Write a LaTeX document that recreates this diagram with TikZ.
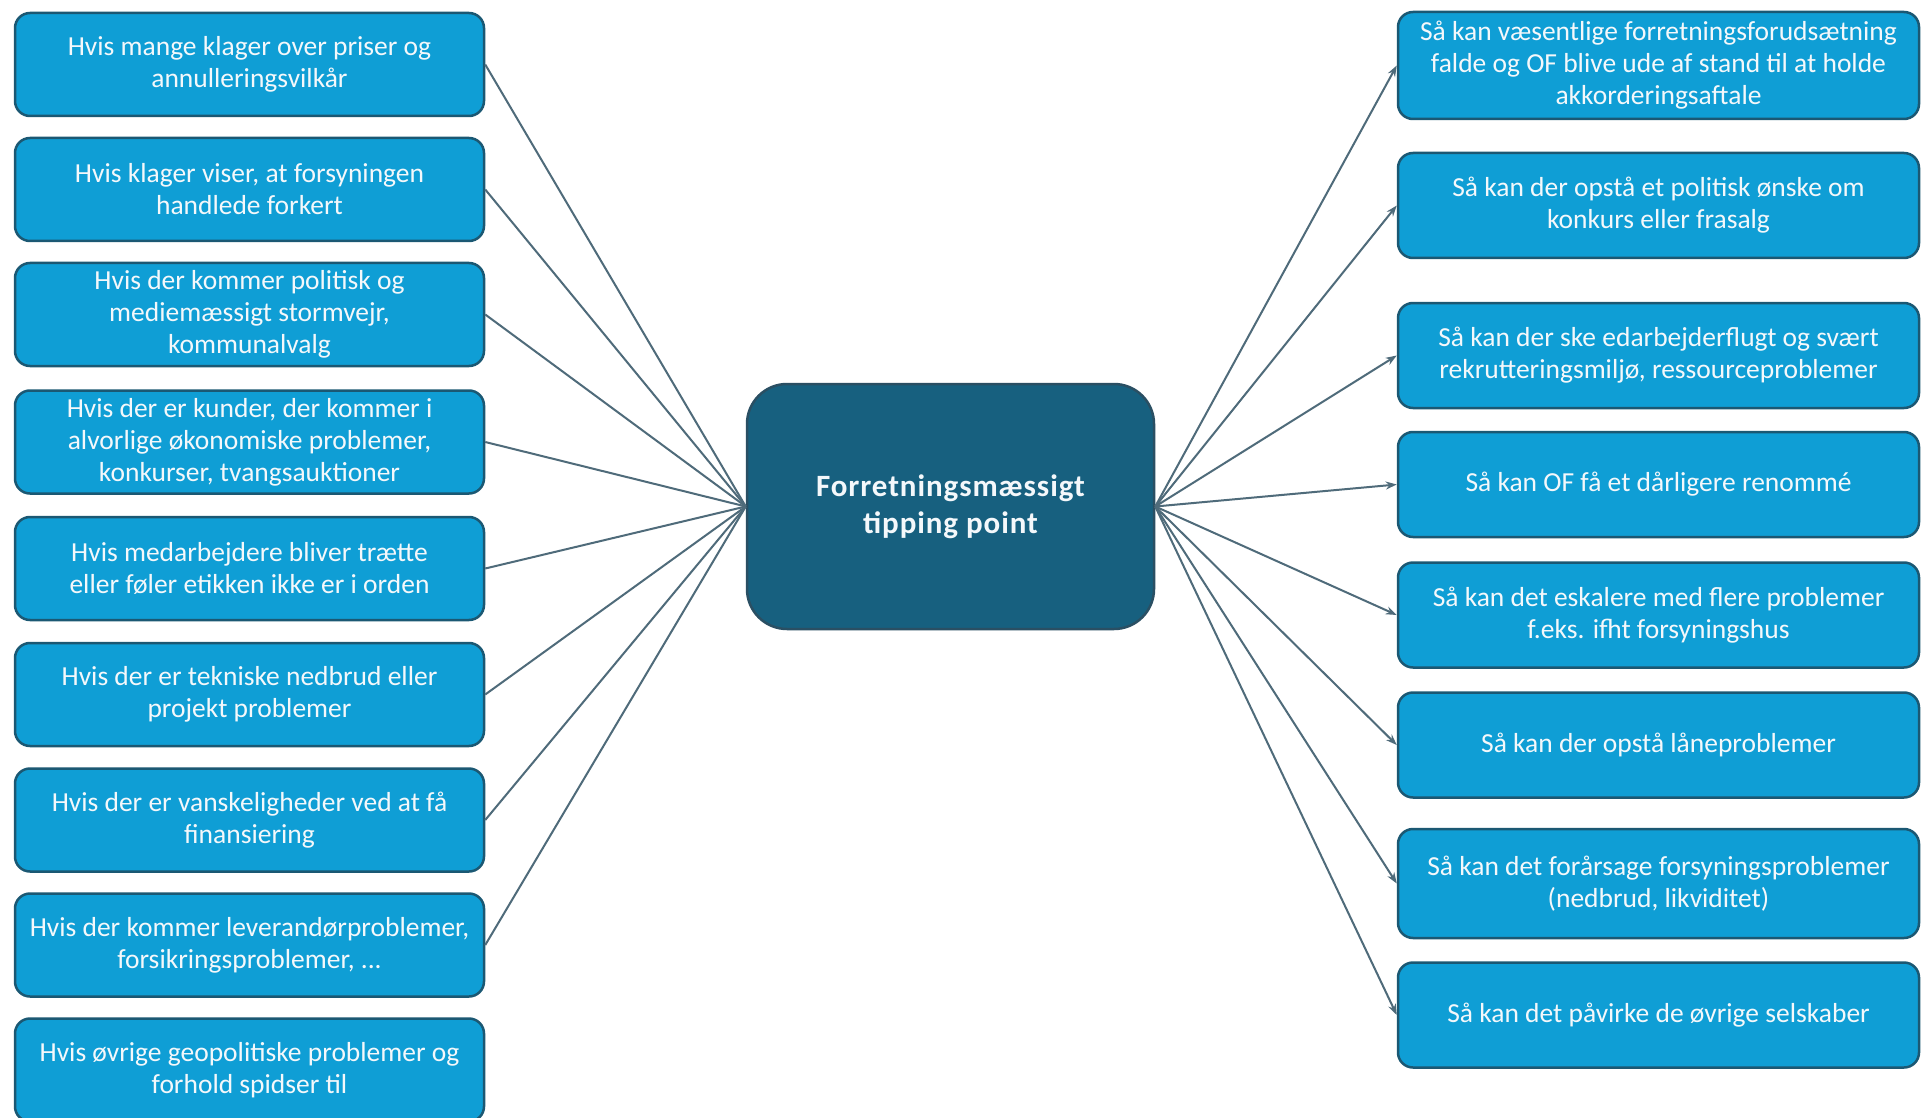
\documentclass[tikz,border=0pt]{standalone}
\usepackage{fontspec}
\setmainfont{Carlito}
\newfontfamily\hubfont[LetterSpace=3]{Carlito}
\usetikzlibrary{arrows.meta}
\definecolor{boxblue}{HTML}{0F9ED5}
\definecolor{boxline}{HTML}{1B5873}
\definecolor{centerfill}{HTML}{17607F}
\definecolor{centerline}{HTML}{2A4F63}
\definecolor{connector}{HTML}{4F6B7A}
\definecolor{textwhite}{HTML}{F4F8FB}
\tikzset{
  infobox/.style={rounded corners=15pt, draw=boxline, line width=2.5pt, fill=boxblue,
    text=textwhite, align=center, inner sep=0pt,
    font=\fontsize{27.5}{32}\selectfont},
  leftbox/.style={infobox, minimum width=469pt, minimum height=103pt},
  rightbox/.style={infobox, minimum width=521pt, minimum height=105pt},
  hubbox/.style={rounded corners=40pt, draw=centerline, line width=2.5pt, fill=centerfill,
    text=textwhite, align=center, minimum width=407pt, minimum height=245pt,
    font=\hubfont\fontsize{31}{37}\selectfont\bfseries},
  conn/.style={draw=connector, line width=2pt},
  arrowconn/.style={conn, -{Stealth[length=11pt,width=8pt]}}
}
\begin{document}
\begin{tikzpicture}[x=1pt,y=-1pt]
\useasboundingbox[fill=white] (0,0) rectangle (1923,1118);
\begin{scope}
\clip (0,0) rectangle (1923,1118);
% left column
\node[leftbox] (L1) at (249.5,64.5) {Hvis mange klager over priser og\\annulleringsvilkår};
\node[leftbox] (L2) at (249.5,189.5) {Hvis klager viser, at forsyningen\\handlede forkert};
\node[leftbox] (L3) at (249.5,314.5) {Hvis der kommer politisk og\\mediemæssigt stormvejr,\\kommunalvalg};
\node[leftbox] (L4) at (249.5,442) {Hvis der er kunder, der kommer i\\alvorlige økonomiske problemer,\\konkurser, tvangsauktioner};
\node[leftbox] (L5) at (249.5,568.5) {Hvis medarbejdere bliver trætte\\eller føler etikken ikke er i orden};
\node[leftbox] (L6) at (249.5,694.5) {Hvis der er tekniske nedbrud eller\\projekt problemer};
\node[leftbox] (L7) at (249.5,820) {Hvis der er vanskeligheder ved at få\\finansiering};
\node[leftbox] (L8) at (249.5,945) {Hvis der kommer leverandørproblemer,\\forsikringsproblemer, ...};
\node[leftbox] (L9) at (249.5,1070) {Hvis øvrige geopolitiske problemer og\\forhold spidser til};
% hub
\node[hubbox] (C) at (950.5,506.5) {Forretningsmæssigt\\tipping point};
% right column
\node[rightbox, minimum height=107pt] (R1) at (1658.5,65.5) {Så kan væsentlige forretningsforudsætning\\falde og OF blive ude af stand til at holde\\akkorderingsaftale};
\node[rightbox] (R2) at (1658.5,205.5) {Så kan der opstå et politisk ønske om\\konkurs eller frasalg};
\node[rightbox] (R3) at (1658.5,355.5) {Så kan der ske edarbejderflugt og svært\\rekrutteringsmiljø, ressourceproblemer};
\node[rightbox] (R4) at (1658.5,484.5) {Så kan OF få et dårligere renommé};
\node[rightbox] (R5) at (1658.5,615) {Så kan det eskalere med flere problemer\\f.eks. ifht forsyningshus};
\node[rightbox] (R6) at (1658.5,745) {Så kan der opstå låneproblemer};
\node[rightbox, minimum height=109pt] (R7) at (1658.5,883.5) {Så kan det forårsage forsyningsproblemer\\(nedbrud, likviditet)};
\node[rightbox] (R8) at (1658.5,1015) {Så kan det påvirke de øvrige selskaber};
\end{scope}
% connectors
\foreach \n in {L1,L2,L3,L4,L5,L6,L7,L8}{
  \draw[conn] (\n.east) -- (C.west);
}
\foreach \n in {R1,R2,R3,R4,R5,R6,R7,R8}{
  \draw[arrowconn] (C.east) -- (\n.west);
}
\end{tikzpicture}
\end{document}
